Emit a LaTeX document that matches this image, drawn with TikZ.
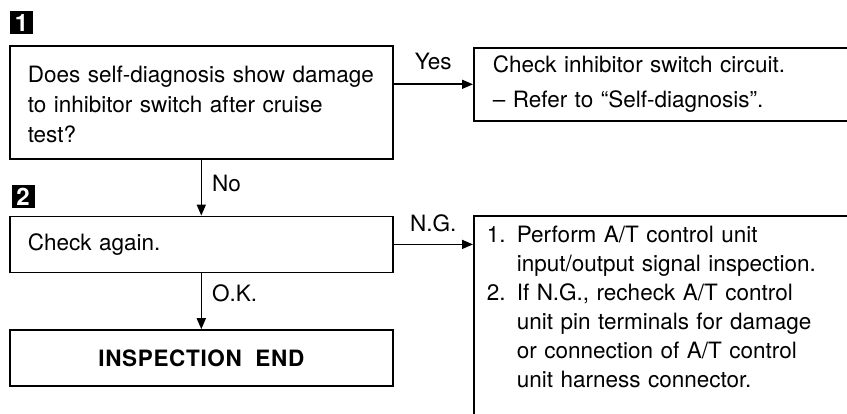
\documentclass[tikz,border=0pt]{standalone}
\usepackage{fontspec}
\setmainfont{TeX Gyre Heros}
\usetikzlibrary{arrows.meta,positioning}

\begin{document}
\begin{tikzpicture}[x=1pt,y=-1pt,
  box/.style={draw,line width=1.6pt,align=left,text width=#1,inner xsep=18pt,
              inner ysep=0pt,font=\fontsize{22.5}{30}\selectfont},
  stepno/.style={fill=black,text=white,minimum size=23pt,inner sep=0pt,
                 font=\fontsize{24}{24}\selectfont\bfseries},
  lbl/.style={font=\fontsize{22.5}{30}\selectfont,inner sep=0pt},
  >={Triangle[length=11pt,width=9pt]},line width=1.6pt]
\useasboundingbox (0,0) rectangle (847,414);
\clip (0,0) rectangle (847,414);
\node[stepno] (s1) at (21.5,23) {1};
\node[box=347pt,minimum height=113pt,text height=21pt,anchor=north west] (q1) at (9,45)
  {Does self-diagnosis show damage\\to inhibitor switch after cruise\\test?};
\node[stepno] (s2) at (23,197) {2};
\node[box=347pt,minimum height=56pt,below=56pt of q1] (c2) {Check again.};
\node[box=347pt,minimum height=56pt,below=56pt of c2,align=center,
      font=\fontsize{22.5}{30}\selectfont\bfseries\addfontfeature{LetterSpace=3}]
      (e3) {INSPECTION\hspace{.6em}END};
\node[box=400pt,minimum height=73pt,inner xsep=19pt,anchor=north west,
      font=\fontsize{22.5}{35}\selectfont] (r1) at (473,47)
  {Check inhibitor switch circuit.\\-- Refer to ``Self-diagnosis''.};
\node[box=400pt,inner xsep=13pt,inner ysep=10.5pt,text depth=190pt,anchor=north west,
      font=\fontsize{22.5}{29}\selectfont] (r2) at (473,215)
  {\makebox[30pt][l]{1.}Perform A/T control unit\\
   \hspace*{30pt}input/output signal inspection.\\
   \makebox[30pt][l]{2.}If N.G., recheck A/T control\\
   \hspace*{30pt}unit pin terminals for damage\\
   \hspace*{30pt}or connection of A/T control\\
   \hspace*{30pt}unit harness connector.};
\draw[->] (r1.west -| q1.east) -- node[lbl,above=14pt] (yes) {Yes} (r1.west);
\draw[->] (q1.south) -- node[lbl,right=10pt,pos=.42] (no) {No} (c2.north);
\draw[->] (c2.east) -- node[lbl,above=12pt] (ng) {N.G.} (c2.east -| r2.west);
\draw[->] (c2.south) -- node[lbl,right=10pt,pos=.35] (ok) {O.K.} (e3.north);
\end{tikzpicture}
\end{document}
